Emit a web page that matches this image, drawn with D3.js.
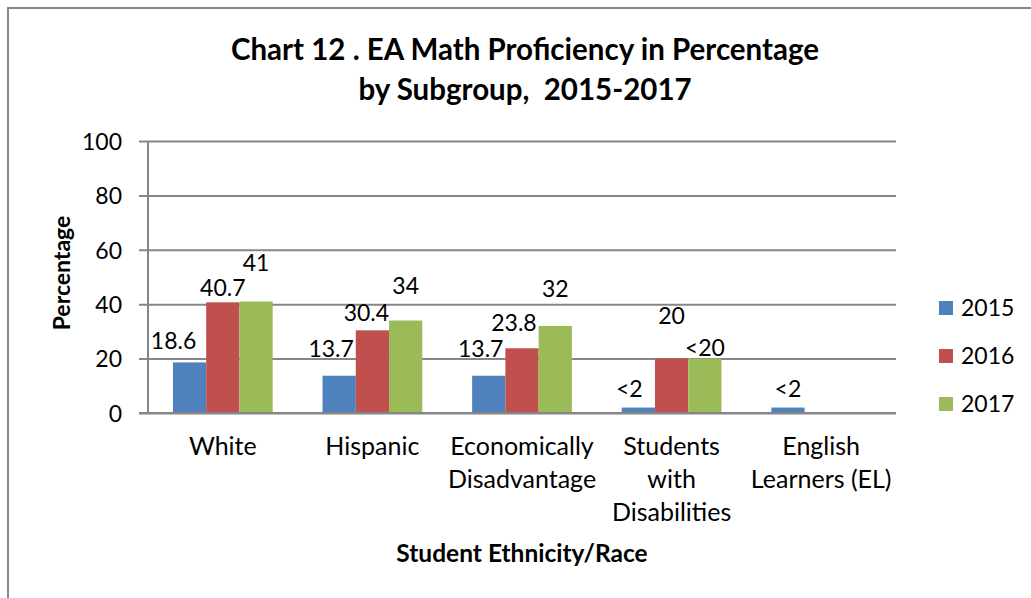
<!DOCTYPE html>
<html>
<head>
<meta charset="utf-8">
<script src="https://cdn.jsdelivr.net/npm/d3@7"></script>
<style>
  html, body { margin: 0; padding: 0; background: #fff; }
  svg { display: block; font-family: Lato, "Open Sans", sans-serif; }
</style>
</head>
<body>
<svg id="chart" width="1031" height="598"></svg>
<script>
// Subgroups along the x axis (each entry is a list of wrapped lines)
const categories = [
  ["White"],
  ["Hispanic"],
  ["Economically", "Disadvantage"],
  ["Students", "with", "Disabilities"],
  ["English", "Learners (EL)"]
];
const years = ["2015", "2016", "2017"];

// Proficiency values per year (null = no bar)
const values2015 = [18.6, 13.7, 13.7, 2, 2];
const values2016 = [40.7, 30.4, 23.8, 20, null];
const values2017 = [41, 34, 32, 20, null];

// Printed labels per year
const labels2015 = ["18.6", "13.7", "13.7", "<2", "<2"];
const labels2016 = ["40.7", "30.4", "23.8", "20", ""];
const labels2017 = ["41", "34", "32", "<20", ""];

const yTicks = [0, 20, 40, 60, 80, 100];

// Hand-placed label offsets [dx, dy from bar top], px
const labelNudge = [
  [[-16, -13], [0, -6], [0, -30]],
  [[-8, -19], [-6, -9], [0, -27]],
  [[-8, -19], [-8, -17], [0, -29]],
  [[-9, -11], [0, -35], [0, -3]],
  [[0, -11], [0, 0], [0, 0]]
];

const colors = ["#4F81BD", "#C0504D", "#9BBB59"];
const gridColor = "#868686";

const svg = d3.select("#chart");
const series = [values2015, values2016, values2017];
const seriesLabels = [labels2015, labels2016, labels2017];

// outer frame
svg.append("rect")
  .attr("x", 8).attr("y", 8)
  .attr("width", 1060).attr("height", 620)
  .attr("fill", "none").attr("stroke", "#888").attr("stroke-width", 2);

const plot = { left: 148, right: 896, top: 141, bottom: 413 };

const x = d3.scaleBand()
  .domain(d3.range(categories.length))
  .range([plot.left, plot.right])
  .paddingInner(1 / 3)
  .paddingOuter(1 / 6);

const xi = d3.scaleBand()
  .domain(d3.range(years.length))
  .range([0, x.bandwidth()]);

const y = d3.scaleLinear().domain([0, 100]).range([plot.bottom, plot.top]);

// gridlines with tick stubs
const yAxis = d3.axisLeft(y)
  .tickValues(yTicks)
  .tickSize(-(plot.right - plot.left))
  .tickSizeOuter(0)
  .tickPadding(26);

const gy = svg.append("g")
  .attr("transform", `translate(${plot.left},0)`)
  .call(yAxis);
gy.select(".domain").remove();
gy.selectAll(".tick line")
  .attr("x1", -9)
  .attr("stroke", gridColor).attr("stroke-width", 2);
gy.selectAll(".tick text")
  .attr("font-size", 23).attr("fill", "#000")
  .attr("font-family", "Lato, sans-serif")
  .attr("dy", "0.36em");

// bars
series.forEach((vals, s) => {
  svg.append("g").selectAll("rect")
    .data(vals.map((v, i) => ({ v, i })).filter(d => d.v !== null))
    .join("rect")
    .attr("x", d => x(d.i) + xi(s))
    .attr("y", d => y(d.v))
    .attr("width", xi.bandwidth())
    .attr("height", d => y(0) - y(d.v))
    .attr("fill", colors[s]);
});

// value axis line
svg.append("line")
  .attr("x1", plot.left).attr("x2", plot.left)
  .attr("y1", plot.top).attr("y2", plot.bottom + 1)
  .attr("stroke", gridColor).attr("stroke-width", 2);
// category axis line
svg.append("line")
  .attr("x1", plot.left - 9).attr("x2", plot.right)
  .attr("y1", plot.bottom).attr("y2", plot.bottom)
  .attr("stroke", gridColor).attr("stroke-width", 2);

// data labels
series.forEach((vals, s) => {
  svg.append("g").selectAll("text")
    .data(vals.map((v, i) => ({ v, i, t: seriesLabels[s][i] })).filter(d => d.v !== null && d.t))
    .join("text")
    .attr("x", d => x(d.i) + xi(s) + xi.bandwidth() / 2 + labelNudge[d.i][s][0])
    .attr("y", d => y(d.v) + labelNudge[d.i][s][1])
    .attr("text-anchor", "middle")
    .attr("font-size", 23)
    .attr("fill", "#000")
    .text(d => d.t);
});

// category labels
const cat = svg.append("g").selectAll("text")
  .data(categories)
  .join("text")
  .attr("x", (d, i) => x(i) + x.bandwidth() / 2)
  .attr("y", 455)
  .attr("text-anchor", "middle")
  .attr("font-size", 25)
  .attr("fill", "#000");
cat.selectAll("tspan")
  .data(d => d)
  .join("tspan")
  .attr("x", function () { return d3.select(this.parentNode).attr("x"); })
  .attr("dy", (d, j) => j === 0 ? 0 : 33)
  .text(d => d);

// axis titles
svg.append("text")
  .attr("x", 522).attr("y", 562)
  .attr("text-anchor", "middle")
  .attr("font-size", 24.5).attr("font-weight", "bold")
  .text("Student Ethnicity/Race");

svg.append("text")
  .attr("transform", "translate(70,273) rotate(-90)")
  .attr("text-anchor", "middle")
  .attr("font-size", 23).attr("font-weight", "bold")
  .text("Percentage");

// chart title
const title = svg.append("text")
  .attr("text-anchor", "middle")
  .attr("font-size", 29.5).attr("font-weight", "bold");
title.append("tspan").attr("x", 525).attr("y", 60)
  .text("Chart 12 . EA Math Proficiency in Percentage");
title.append("tspan").attr("x", 525).attr("y", 100)
  .attr("xml:space", "preserve").style("white-space", "pre")
  .text("by Subgroup,  2015-2017");

// legend
const legend = svg.append("g").selectAll("g")
  .data(years)
  .join("g")
  .attr("transform", (d, i) => `translate(939,${301 + i * 48})`);
legend.append("rect")
  .attr("width", 14).attr("height", 14)
  .attr("fill", (d, i) => colors[i]);
legend.append("text")
  .attr("x", 22).attr("y", 15)
  .attr("font-size", 23)
  .text(d => d);
</script>
</body>
</html>
